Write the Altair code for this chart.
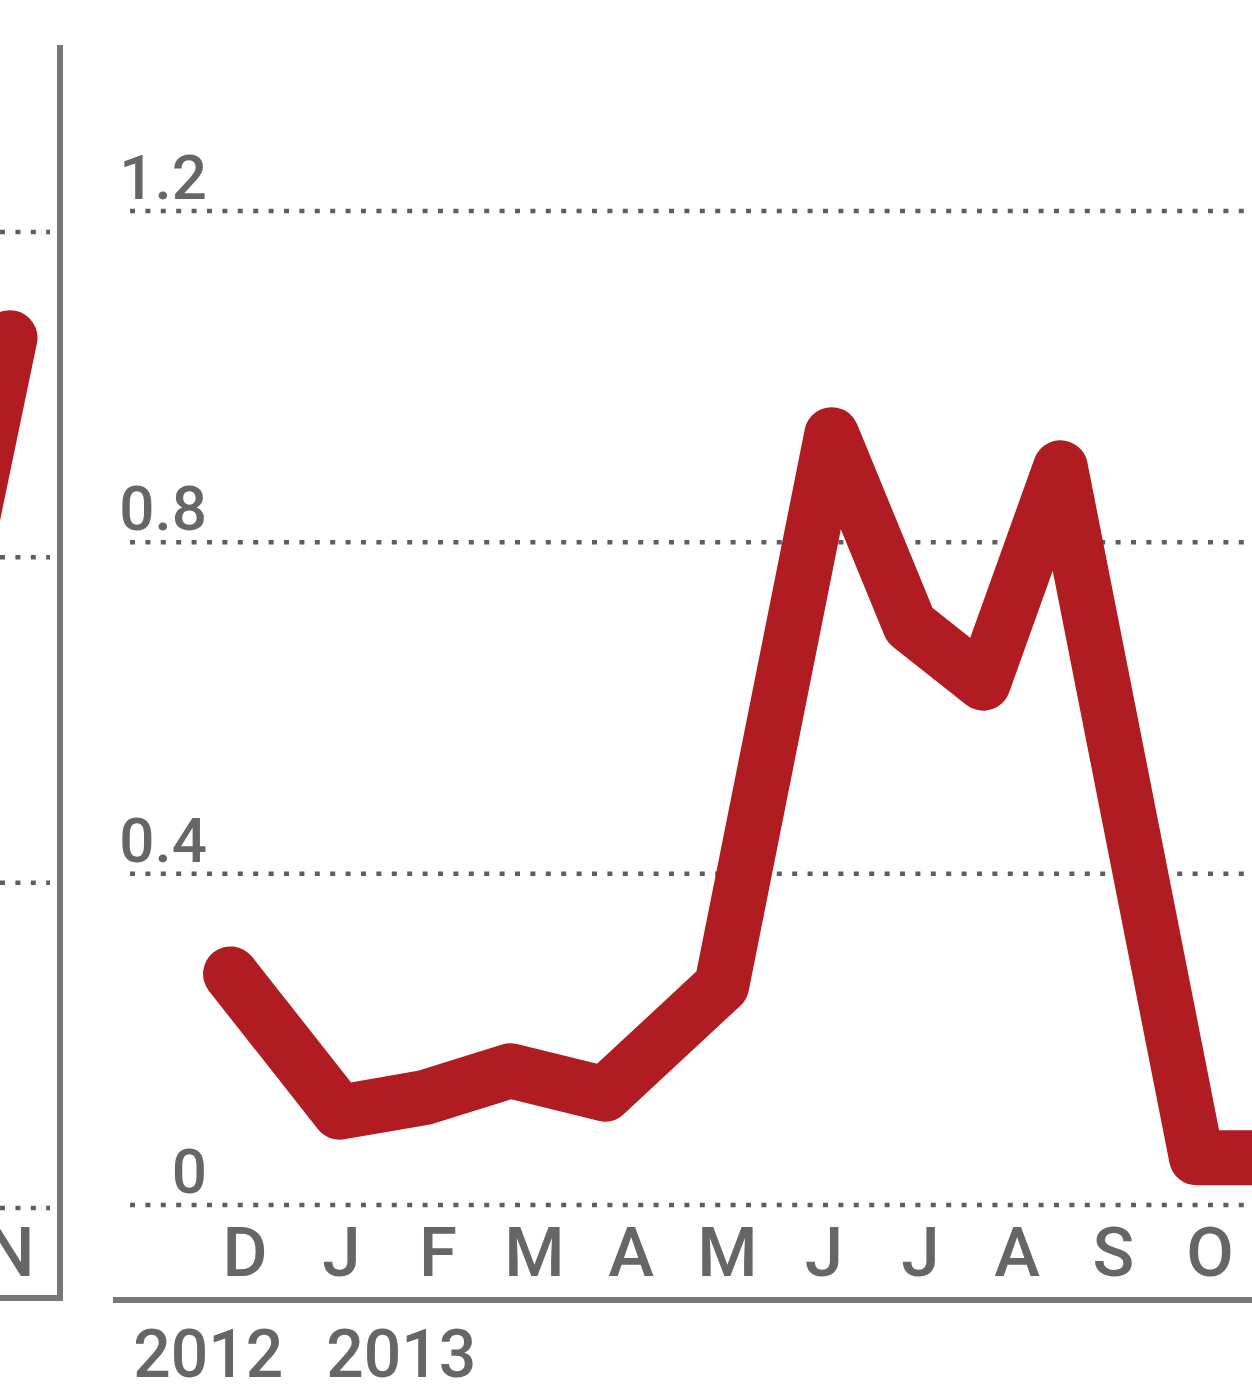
import altair as alt
import pandas as pd

# ---- data ----
months = ["D", "J", "F", "M", "A", "M", "J", "J", "A", "S", "O"]
month_pos = [0, 1, 2, 3, 4, 5, 6, 7, 8, 9, 10]

# main series (x in months from Dec 2012, value)
line_x = [-0.15, 0.98, 1.87, 2.75, 3.73, 4.94, 6.08, 6.89, 7.65, 8.45, 9.86, 10.8]
line_y = [0.279, 0.112, 0.13, 0.162, 0.134, 0.265, 0.93, 0.70, 0.63, 0.89, 0.057, 0.057]

# previous panel (only its right edge is visible)
left_months = ["N"]
left_month_pos = [0]
left_x = [-1, 0]
left_y = [0.50, 1.07]

ticks = [0, 0.4, 0.8, 1.2]
tick_labels = ["0", "0.4", "0.8", "1.2"]

years = ["2012", "2013"]
year_pos = [-0.38, 1.62]

RED = "#b01c22"
GREY = "#666666"
FONT = "Roboto"

# ---- scales ----
xs = alt.Scale(domain=[0, 10], range=[245, 1210], nice=False, zero=False)
ys = alt.Scale(domain=[0, 1.2], range=[1205, 211], nice=False, zero=False)
xl = alt.Scale(domain=[0, 1], range=[10, 106.5], nice=False, zero=False)
yl = alt.Scale(domain=[0, 1.2], range=[1208, 232], nice=False, zero=False)

line_df = pd.DataFrame({"x": line_x, "y": line_y})
tick_df = pd.DataFrame({"y": ticks, "label": tick_labels})
month_df = pd.DataFrame({"x": month_pos, "m": months})
year_df = pd.DataFrame({"x": year_pos, "yr": years})
left_df = pd.DataFrame({"x": left_x, "y": left_y})
left_month_df = pd.DataFrame({"x": left_month_pos, "m": left_months})

DASH = [5, 10.4]

# ---- right (main) panel ----
grid = alt.Chart(tick_df).mark_rule(
    color="#5e5e5e", strokeWidth=4.5, strokeDash=DASH
).encode(
    y=alt.Y("y:Q", scale=ys, axis=None),
    x=alt.value(130), x2=alt.value(1252),
)

ylabels = alt.Chart(tick_df).mark_text(
    font=FONT, fontSize=62, fontWeight=500, color=GREY, align="right",
    baseline="alphabetic", dy=-12
).encode(
    y=alt.Y("y:Q", scale=ys, axis=None),
    x=alt.value(207),
    text="label:N",
)

line = alt.Chart(line_df).mark_line(
    color=RED, strokeWidth=55, strokeCap="round", strokeJoin="round"
).encode(
    x=alt.X("x:Q", scale=xs, axis=None),
    y=alt.Y("y:Q", scale=ys, axis=None),
    order="x:Q",
)

mlabels = alt.Chart(month_df).mark_text(
    font=FONT, fontSize=69, fontWeight=500, color=GREY, align="center",
    baseline="alphabetic"
).encode(
    x=alt.X("x:Q", scale=xs, axis=None),
    y=alt.value(1276),
    text="m:N",
)

ylabels_year = alt.Chart(year_df).mark_text(
    font=FONT, fontSize=66, fontWeight=500, color=GREY, align="center",
    baseline="alphabetic"
).encode(
    x=alt.X("x:Q", scale=xs, axis=None),
    y=alt.value(1377),
    text="yr:N",
)

baseline_rule = alt.Chart(tick_df).mark_rule(color="#777777", strokeWidth=6).encode(
    x=alt.value(113), x2=alt.value(1252), y=alt.value(1300)
)

right = alt.layer(grid, ylabels, line, mlabels, ylabels_year, baseline_rule)

# ---- left (previous) panel, cut off ----
lgrid = alt.Chart(tick_df).mark_rule(
    color="#5e5e5e", strokeWidth=4.5, strokeDash=DASH
).encode(
    y=alt.Y("y:Q", scale=yl, axis=None),
    x=alt.value(0), x2=alt.value(50),
)

lline = alt.Chart(left_df).mark_line(
    color=RED, strokeWidth=55, strokeCap="round", strokeJoin="round"
).encode(
    x=alt.X("x:Q", scale=xl, axis=None),
    y=alt.Y("y:Q", scale=yl, axis=None),
    order="x:Q",
)

lmonth = alt.Chart(left_month_df).mark_text(
    font=FONT, fontSize=69, fontWeight=500, color=GREY, align="center",
    baseline="alphabetic"
).encode(
    x=alt.X("x:Q", scale=xl, axis=None),
    y=alt.value(1276),
    text="m:N",
)

lframe_v = alt.Chart(tick_df).mark_rule(color="#777777", strokeWidth=6).encode(
    x=alt.value(60), y=alt.value(45), y2=alt.value(1300)
)
lframe_h = alt.Chart(tick_df).mark_rule(color="#777777", strokeWidth=6).encode(
    x=alt.value(0), x2=alt.value(63), y=alt.value(1298)
)

left = alt.layer(lgrid, lline, lmonth, lframe_v, lframe_h)

chart = alt.layer(left, right).resolve_scale(
    x="independent", y="independent"
).properties(
    width=1252, height=1390,
    autosize=alt.AutoSizeParams(type="none"),
    padding=0,
    background="white",
).configure_view(stroke=None)

chart.save("out.html", embed_options={"renderer": "svg", "actions": False})
